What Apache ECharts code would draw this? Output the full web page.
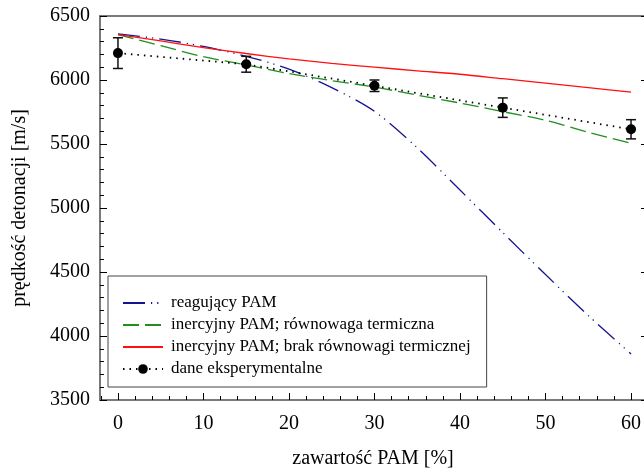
<!DOCTYPE html>
<html>
<head>
<meta charset="utf-8">
<script src="https://cdn.jsdelivr.net/npm/echarts@6/dist/echarts.min.js"></script>
<style>html,body{margin:0;padding:0;background:#fff}#c{width:644px;height:468px}</style>
</head>
<body>
<div id="c"></div>
<script>
// ---- data ----
const modelX = [0, 5, 10, 15, 20, 25, 30, 35, 40, 45, 50, 55, 60];
const reagujacy = [6360, 6320, 6262, 6185, 6085, 5940, 5755, 5470, 5140, 4808, 4480, 4160, 3860];
const rownowaga = [6355, 6268, 6182, 6118, 6050, 5995, 5945, 5882, 5820, 5753, 5685, 5592, 5505];
const brakRownowagi = [6355, 6305, 6253, 6207, 6165, 6130, 6100, 6072, 6045, 6010, 5975, 5940, 5906];
const expX = [0, 15, 30, 45, 60];
const expY = [6210, 6123, 5955, 5784, 5615];
const expErr = [120, 62, 45, 76, 75];
const seriesNames = ['reagujący PAM', 'inercyjny PAM; równowaga termiczna', 'inercyjny PAM; brak równowagi termicznej', 'dane eksperymentalne'];
const xMajorTicks = [0, 10, 20, 30, 40, 50, 60];
const xMinorTicks = [-2, 2, 4, 6, 8, 12, 14, 16, 18, 22, 24, 26, 28, 32, 34, 36, 38, 42, 44, 46, 48, 52, 54, 56, 58];
const yTicks = { min: 3500, max: 6500, step: 500 };

const font = '"Liberation Serif", "Times New Roman", serif';
const zip = (xs, ys) => xs.map((x, i) => [x, ys[i]]);
const X_MIN = -2.1, X_MAX = 61.75;

const chart = echarts.init(document.getElementById('c'));
chart.setOption({
  animation: false,
  backgroundColor: '#fff',
  grid: { left: 100, top: 16, width: 546, height: 384, outerBoundsMode: 'none', containLabel: false },
  xAxis: [{
    type: 'value', min: X_MIN, max: X_MAX,
    axisLabel: { fontFamily: font, fontSize: 20, color: '#000', margin: 14, customValues: xMajorTicks },
    axisLine: { onZero: false, lineStyle: { color: '#7a7a7a', width: 2 } },
    axisTick: { inside: true, length: 7, customValues: xMajorTicks, lineStyle: { color: '#000', width: 1 } },
    splitLine: { show: false },
    name: 'zawartość PAM [%]', nameLocation: 'middle', nameGap: 49,
    nameTextStyle: { fontFamily: font, fontSize: 20, color: '#000' }
  }, {
    type: 'value', position: 'top', min: X_MIN, max: X_MAX,
    axisLabel: { show: false }, axisTick: { show: false },
    axisLine: { onZero: false, lineStyle: { color: '#7a7a7a', width: 2 } },
    splitLine: { show: false }
  }, {
    type: 'value', position: 'bottom', min: X_MIN, max: X_MAX,
    axisLabel: { show: false },
    axisLine: { show: false, onZero: false },
    axisTick: { inside: true, length: 4, customValues: xMinorTicks, lineStyle: { color: '#000', width: 1 } },
    splitLine: { show: false }
  }],
  yAxis: [{
    type: 'value', min: yTicks.min, max: yTicks.max, interval: yTicks.step,
    axisLabel: { fontFamily: font, fontSize: 20, color: '#000', margin: 10, formatter: v => String(v) },
    axisLine: { onZero: false, lineStyle: { color: '#7a7a7a', width: 2 } },
    axisTick: { inside: true, length: 7, lineStyle: { color: '#000', width: 1 } },
    minorTick: { show: true, splitNumber: 5, length: 4, lineStyle: { color: '#000' } },
    splitLine: { show: false },
    name: 'prędkość detonacji [m/s]', nameLocation: 'middle', nameGap: 70,
    nameTextStyle: { fontFamily: font, fontSize: 20, color: '#000' }
  }, {
    type: 'value', position: 'right', min: yTicks.min, max: yTicks.max, interval: yTicks.step,
    axisLabel: { show: false },
    axisLine: { onZero: false, lineStyle: { color: '#7a7a7a', width: 2 } },
    axisTick: { inside: true, length: 5, lineStyle: { color: '#000' } },
    splitLine: { show: false }
  }],
  legend: {
    orient: 'vertical', left: 108, top: 276,
    data: [
      { name: seriesNames[0], itemStyle: { opacity: 0 } },
      { name: seriesNames[1], itemStyle: { opacity: 0 } },
      { name: seriesNames[2], itemStyle: { opacity: 0 } },
      { name: seriesNames[3] }
    ],
    backgroundColor: '#fff', borderColor: '#444', borderWidth: 1,
    padding: [17, 16, 8, 14],
    itemWidth: 40, itemHeight: 12, itemGap: 2,
    textStyle: { fontFamily: font, fontSize: 17, color: '#000', lineHeight: 20, padding: [0, 0, 0, 3] }
  },
  series: [{
    name: seriesNames[0], type: 'line', data: zip(modelX, reagujacy), smooth: 0.3,
    showSymbol: false, symbol: 'none', z: 3,
    lineStyle: { color: '#14148f', width: 1.3, type: [22, 6, 1.2, 5, 1.2, 6] },
    itemStyle: { color: '#14148f' }
  }, {
    name: seriesNames[1], type: 'line', data: zip(modelX, rownowaga), smooth: 0.3,
    showSymbol: false, symbol: 'none', z: 3,
    lineStyle: { color: '#1f8f1f', width: 1.3, type: [16, 6] },
    itemStyle: { color: '#1f8f1f' }
  }, {
    name: seriesNames[2], type: 'line', data: zip(modelX, brakRownowagi), smooth: 0.3,
    showSymbol: false, symbol: 'none', z: 3,
    lineStyle: { color: '#ff1010', width: 1.3 },
    itemStyle: { color: '#ff1010' }
  }, {
    name: seriesNames[3], type: 'line', data: zip(expX, expY),
    symbol: 'circle', symbolSize: 10, z: 5,
    lineStyle: { color: '#000', width: 1.8, type: [1.5, 5] },
    itemStyle: { color: '#000' }
  }, {
    name: 'err', type: 'custom', z: 4,
    data: expX.map((x, i) => [x, expY[i] - expErr[i], expY[i] + expErr[i]]),
    renderItem: (params, api) => {
      const lo = api.coord([api.value(0), api.value(1)]);
      const hi = api.coord([api.value(0), api.value(2)]);
      const w = 5;
      const st = { stroke: '#111', lineWidth: 1.5, fill: null };
      return { type: 'group', children: [
        { type: 'line', shape: { x1: lo[0], y1: lo[1], x2: hi[0], y2: hi[1] }, style: st },
        { type: 'line', shape: { x1: lo[0] - w, y1: lo[1], x2: lo[0] + w, y2: lo[1] }, style: st },
        { type: 'line', shape: { x1: hi[0] - w, y1: hi[1], x2: hi[0] + w, y2: hi[1] }, style: st }
      ] };
    }
  }]
});
</script>
</body>
</html>
